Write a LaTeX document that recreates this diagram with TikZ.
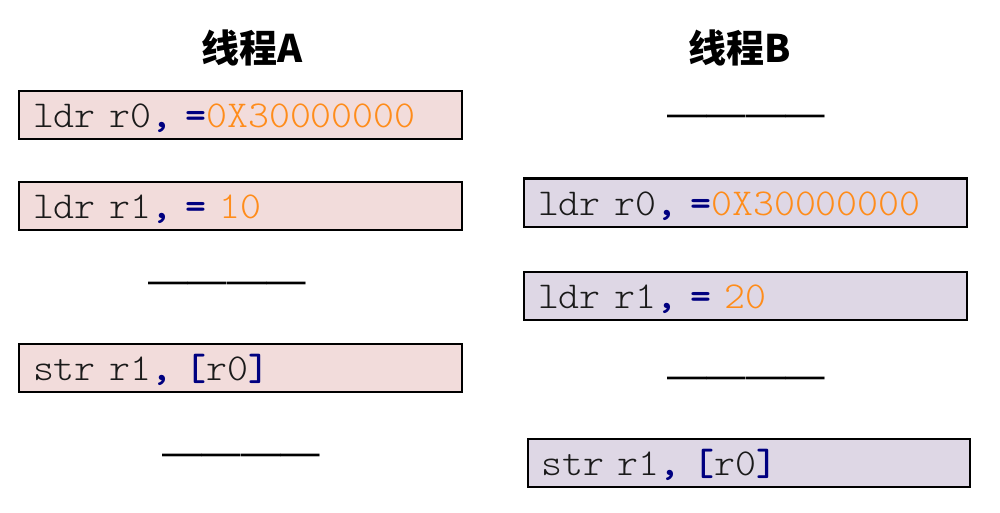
\documentclass[tikz,border=0pt]{standalone}
\usepackage{fontspec}
\usepackage{graphicx}
\newfontfamily\cjk{Noto Sans CJK SC}
\newfontfamily\dashfont{Liberation Sans}
\definecolor{pinkfill}{HTML}{F2DCDB}
\definecolor{lavfill}{HTML}{DED7E5}
\definecolor{codeblue}{HTML}{000080}
\definecolor{codeorange}{HTML}{FF8C1A}
\definecolor{textdark}{HTML}{1A1A1A}
\newcommand{\cbl}[1]{{\fontseries{b}\selectfont\color{codeblue}#1}}
\newcommand{\cor}[1]{{\color{codeorange}#1}}
\newcommand{\codeline}[1]{\scalebox{1.05}[1]{#1}}
\begin{document}
\begin{tikzpicture}[x=1pt,y=-1pt]
\useasboundingbox[fill=white] (0,0) rectangle (1000,513);
\tikzset{
  codebox/.style={draw=black, line width=2pt, minimum width=443pt, minimum height=48pt,
    anchor=west, inner xsep=14pt, inner ysep=0pt, text width=415pt, align=left,
    font=\fontsize{38}{38}\ttfamily\fontseries{l}\selectfont, text height=25pt, text depth=0pt, text=textdark},
  boxA/.style={codebox, fill=pinkfill},
  boxB/.style={codebox, fill=lavfill},
  title/.style={font=\cjk\bfseries\fontsize{38}{38}\selectfont, text=black, anchor=center},
  gap/.style={font=\dashfont\fontsize{39.5}{39.5}\selectfont, text=black, anchor=base, inner sep=0pt}
}
% titles
\node[title] (tA) at (252,48) {线程A};
\node[title] (tB) at (740,48) {线程B};
% thread A
\node[boxA] (a1) at (18,115) {\codeline{ldr r0\cbl{,} \cbl{=}\cor{0X30000000}}};
\node[boxA] (a2) at (18,205.5) {\codeline{ldr r1\cbl{,} \cbl{=} \cor{10}}};
\node[gap] (ga1) at (227,293) {————};
\node[boxA] (a3) at (18,367.5) {\codeline{str r1\cbl{,} \cbl{[}r0\cbl{]}}};
\node[gap] (ga2) at (241,465) {————};
% thread B
\node[gap] (gb1) at (746,127) {————};
\node[boxB] (b1) at (523,202.5) {\codeline{ldr r0\cbl{,} \cbl{=}\cor{0X30000000}}};
\node[boxB] (b2) at (523,295.5) {\codeline{ldr r1\cbl{,} \cbl{=} \cor{20}}};
\node[gap] (gb2) at (746,388) {————};
\node[boxB, minimum width=442pt, text width=415pt, inner xsep=13.5pt] (b3) at (527,463) {\codeline{str r1\cbl{,} \cbl{[}r0\cbl{]}}};
\end{tikzpicture}
\end{document}
